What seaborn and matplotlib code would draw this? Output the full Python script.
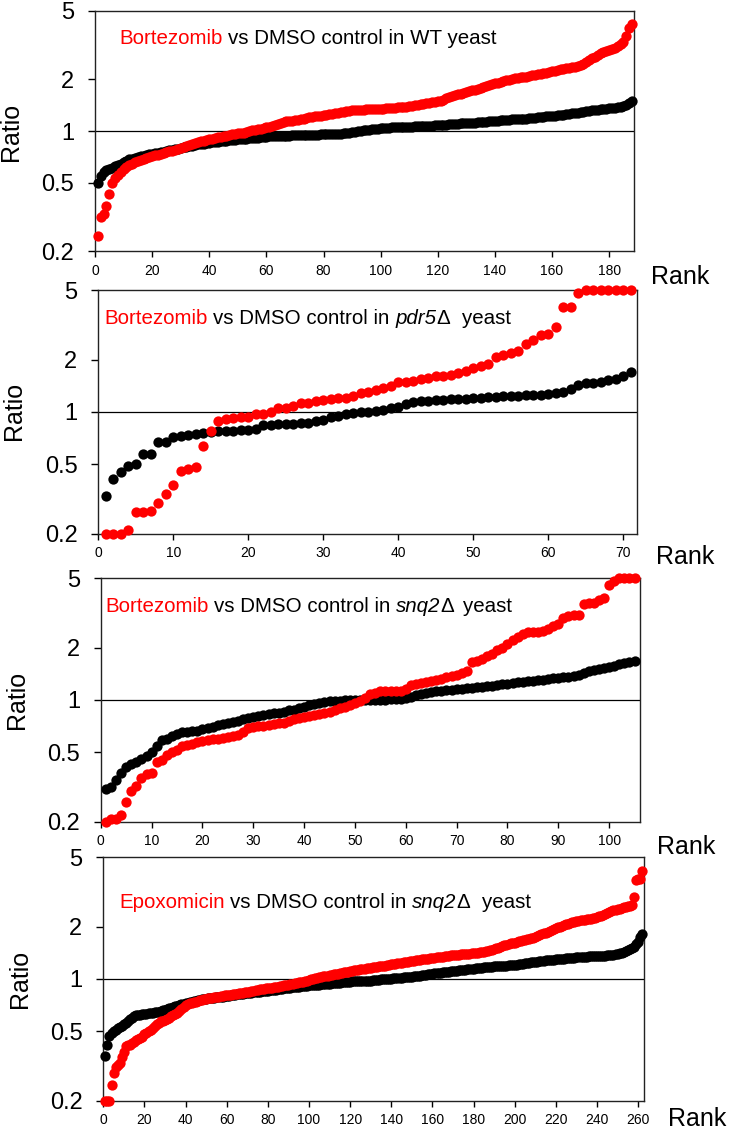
import matplotlib
matplotlib.use("Agg")
import matplotlib.pyplot as plt
import seaborn as sns
import numpy as np
import pandas as pd
from matplotlib.ticker import FixedLocator, FixedFormatter, NullLocator

# ---------------- data (sorted ratios) ----------------
wt_black = [
    0.50, 0.55, 0.575, 0.59, 0.60, 0.61, 0.625, 0.635, 0.645, 0.66,
    0.67, 0.685, 0.69, 0.70, 0.71, 0.715, 0.72, 0.73, 0.735, 0.74,
    0.745, 0.75, 0.755, 0.76, 0.77, 0.775, 0.78, 0.785, 0.79, 0.80,
    0.805, 0.81, 0.815, 0.82, 0.83, 0.835, 0.84, 0.845, 0.85, 0.855,
    0.86, 0.86, 0.865, 0.87, 0.875, 0.88, 0.885, 0.89, 0.89, 0.895,
    0.90, 0.90, 0.90, 0.905, 0.905, 0.91, 0.915, 0.92, 0.925, 0.927,
    0.93, 0.93, 0.932, 0.934, 0.935, 0.937, 0.94, 0.94, 0.942, 0.944,
    0.945, 0.945, 0.946, 0.947, 0.948, 0.95, 0.951, 0.953, 0.955, 0.956,
    0.957, 0.958, 0.959, 0.96, 0.962, 0.965, 0.968, 0.972, 0.978, 0.985,
    0.99, 0.995, 1.0, 1.01, 1.015, 1.02, 1.025, 1.03, 1.033, 1.036,
    1.04, 1.042, 1.045, 1.048, 1.05, 1.052, 1.054, 1.055, 1.057, 1.06,
    1.06, 1.062, 1.064, 1.066, 1.068, 1.07, 1.072, 1.075, 1.078, 1.08,
    1.083, 1.086, 1.09, 1.093, 1.097, 1.10, 1.103, 1.106, 1.11, 1.113,
    1.115, 1.117, 1.12, 1.123, 1.126, 1.13, 1.133, 1.136, 1.14, 1.145,
    1.148, 1.152, 1.155, 1.16, 1.165, 1.168, 1.17, 1.173, 1.176, 1.178,
    1.18, 1.185, 1.19, 1.195, 1.20, 1.205, 1.21, 1.215, 1.22, 1.225,
    1.23, 1.235, 1.24, 1.245, 1.25, 1.257, 1.264, 1.27, 1.28, 1.288,
    1.295, 1.30, 1.31, 1.32, 1.325, 1.33, 1.335, 1.34, 1.35, 1.355,
    1.36, 1.365, 1.37, 1.38, 1.39, 1.42, 1.45, 1.50,
]
wt_red = [
    0.247, 0.315, 0.33, 0.367, 0.43, 0.50, 0.53, 0.555, 0.575, 0.60,
    0.615, 0.635, 0.645, 0.66, 0.67, 0.68, 0.69, 0.70, 0.71, 0.72,
    0.725, 0.73, 0.74, 0.75, 0.76, 0.765, 0.77, 0.78, 0.79, 0.80,
    0.81, 0.82, 0.83, 0.84, 0.855, 0.86, 0.87, 0.88, 0.89, 0.895,
    0.90, 0.91, 0.92, 0.925, 0.935, 0.94, 0.95, 0.955, 0.96, 0.97,
    0.975, 0.98, 0.99, 1.0, 1.01, 1.02, 1.025, 1.03, 1.04, 1.05,
    1.06, 1.07, 1.08, 1.10, 1.12, 1.13, 1.14, 1.145, 1.15, 1.16,
    1.165, 1.17, 1.18, 1.19, 1.20, 1.21, 1.215, 1.22, 1.23, 1.24,
    1.245, 1.25, 1.26, 1.27, 1.28, 1.285, 1.29, 1.30, 1.31, 1.32,
    1.32, 1.325, 1.33, 1.33, 1.335, 1.34, 1.34, 1.34, 1.345, 1.35,
    1.35, 1.355, 1.36, 1.36, 1.365, 1.37, 1.375, 1.38, 1.385, 1.39,
    1.40, 1.41, 1.42, 1.43, 1.44, 1.45, 1.46, 1.47, 1.48, 1.49,
    1.50, 1.52, 1.55, 1.57, 1.59, 1.61, 1.63, 1.65, 1.67, 1.69,
    1.70, 1.72, 1.73, 1.75, 1.78, 1.80, 1.83, 1.85, 1.87, 1.89,
    1.91, 1.93, 1.95, 1.97, 1.98, 2.0, 2.02, 2.03, 2.05, 2.06,
    2.07, 2.09, 2.10, 2.12, 2.13, 2.15, 2.17, 2.18, 2.20, 2.22,
    2.24, 2.26, 2.28, 2.30, 2.32, 2.33, 2.34, 2.36, 2.40, 2.43,
    2.45, 2.5, 2.58, 2.65, 2.7, 2.76, 2.82, 2.88, 2.92, 2.96,
    3.0, 3.05, 3.12, 3.2, 3.3, 3.55, 3.95, 4.17,
]

pdr5_black = [
    0.33, 0.41, 0.45, 0.49, 0.50, 0.57, 0.57, 0.67, 0.67, 0.72,
    0.73, 0.74, 0.75, 0.76, 0.77, 0.78, 0.78, 0.78, 0.79, 0.79,
    0.80, 0.84, 0.84, 0.85, 0.85, 0.85, 0.86, 0.87, 0.89, 0.90,
    0.94, 0.95, 0.97, 0.99, 1.0, 1.0, 1.01, 1.03, 1.05, 1.07,
    1.11, 1.14, 1.15, 1.16, 1.17, 1.17, 1.18, 1.18, 1.18, 1.20,
    1.21, 1.22, 1.22, 1.24, 1.24, 1.24, 1.25, 1.25, 1.26, 1.27,
    1.28, 1.31, 1.36, 1.43, 1.46, 1.46, 1.49, 1.53, 1.55, 1.60, 1.69,
]
pdr5_red = [
    0.20, 0.20, 0.20, 0.21, 0.265, 0.265, 0.27, 0.30, 0.34, 0.38,
    0.46, 0.47, 0.48, 0.64, 0.78, 0.89, 0.91, 0.92, 0.93, 0.94,
    0.97, 0.98, 1.0, 1.05, 1.06, 1.08, 1.12, 1.13, 1.15, 1.17,
    1.18, 1.20, 1.21, 1.23, 1.28, 1.31, 1.33, 1.37, 1.41, 1.48,
    1.49, 1.51, 1.54, 1.56, 1.60, 1.62, 1.63, 1.67, 1.72, 1.80,
    1.84, 1.88, 2.08, 2.13, 2.17, 2.25, 2.45, 2.60, 2.77, 2.80,
    3.10, 4.0, 4.0, 4.8, 5.0, 5.0, 5.0, 5.0, 5.0, 5.0, 5.0,
]

snq2_black = [
    0.306, 0.317, 0.347, 0.38, 0.41, 0.43, 0.44, 0.455, 0.475, 0.505,
    0.54, 0.59, 0.60, 0.62, 0.64, 0.65, 0.655, 0.66, 0.665, 0.68,
    0.69, 0.70, 0.715, 0.73, 0.735, 0.75, 0.76, 0.775, 0.79, 0.80,
    0.81, 0.82, 0.825, 0.84, 0.845, 0.855, 0.87, 0.88, 0.90, 0.915,
    0.93, 0.95, 0.955, 0.97, 0.98, 0.985, 0.99, 1.0, 1.0, 1.0,
    1.0, 1.0, 1.0, 1.0, 1.0, 1.005, 1.01, 1.01, 1.015, 1.02,
    1.04, 1.07, 1.08, 1.10, 1.11, 1.12, 1.13, 1.14, 1.145, 1.15,
    1.16, 1.17, 1.175, 1.18, 1.19, 1.20, 1.21, 1.22, 1.23, 1.24,
    1.25, 1.26, 1.27, 1.28, 1.29, 1.30, 1.31, 1.32, 1.33, 1.34,
    1.35, 1.36, 1.37, 1.39, 1.42, 1.47, 1.49, 1.51, 1.53, 1.55,
    1.57, 1.60, 1.63, 1.66, 1.68,
]
snq2_red = [
    0.20, 0.208, 0.208, 0.218, 0.26, 0.30, 0.32, 0.355, 0.375, 0.38,
    0.44, 0.45, 0.48, 0.50, 0.515, 0.54, 0.55, 0.56, 0.57, 0.58,
    0.59, 0.595, 0.60, 0.607, 0.615, 0.62, 0.63, 0.65, 0.69, 0.70,
    0.705, 0.71, 0.715, 0.725, 0.735, 0.74, 0.76, 0.775, 0.785, 0.80,
    0.81, 0.82, 0.83, 0.84, 0.855, 0.88, 0.90, 0.915, 0.935, 0.955,
    0.98, 1.02, 1.08, 1.10, 1.12, 1.12, 1.12, 1.12, 1.13, 1.15,
    1.22, 1.24, 1.25, 1.27, 1.28, 1.30, 1.32, 1.35, 1.38, 1.40,
    1.43, 1.46, 1.66, 1.68, 1.71, 1.78, 1.84, 1.94, 2.0, 2.1,
    2.2, 2.31, 2.38, 2.45, 2.47, 2.47, 2.5, 2.55, 2.65, 2.74,
    2.95, 3.05, 3.08, 3.1, 3.55, 3.6, 3.6, 3.75, 3.84, 4.58,
    4.8, 5.0, 5.0, 5.0, 5.0,
]

epox_black = [
    0.36, 0.42, 0.47, 0.49, 0.50, 0.51, 0.52, 0.53, 0.54, 0.55,
    0.56, 0.57, 0.59, 0.60, 0.615, 0.62, 0.622, 0.625, 0.627, 0.63,
    0.633, 0.635, 0.638, 0.64, 0.643, 0.647, 0.65, 0.655, 0.66, 0.665,
    0.67, 0.677, 0.685, 0.69, 0.695, 0.70, 0.708, 0.715, 0.72, 0.725,
    0.73, 0.735, 0.74, 0.745, 0.75, 0.755, 0.76, 0.765, 0.77, 0.772,
    0.775, 0.777, 0.78, 0.782, 0.785, 0.787, 0.79, 0.793, 0.796, 0.80,
    0.803, 0.806, 0.809, 0.812, 0.815, 0.818, 0.821, 0.824, 0.827, 0.83,
    0.833, 0.836, 0.838, 0.84, 0.843, 0.846, 0.849, 0.852, 0.855, 0.858,
    0.861, 0.864, 0.867, 0.87, 0.873, 0.876, 0.879, 0.882, 0.886, 0.89,
    0.893, 0.896, 0.899, 0.902, 0.905, 0.908, 0.911, 0.915, 0.917, 0.919,
    0.921, 0.923, 0.925, 0.927, 0.929, 0.93, 0.933, 0.935, 0.938, 0.94,
    0.943, 0.945, 0.948, 0.95, 0.952, 0.955, 0.957, 0.96, 0.963, 0.966,
    0.968, 0.97, 0.972, 0.974, 0.975, 0.976, 0.977, 0.978, 0.979, 0.98,
    0.983, 0.986, 0.989, 0.992, 0.995, 0.997, 0.999, 1.0, 1.003, 1.006,
    1.009, 1.012, 1.015, 1.018, 1.02, 1.022, 1.024, 1.026, 1.028, 1.03,
    1.034, 1.038, 1.042, 1.046, 1.05, 1.054, 1.058, 1.062, 1.066, 1.072,
    1.076, 1.08, 1.084, 1.088, 1.092, 1.096, 1.10, 1.103, 1.106, 1.11,
    1.114, 1.118, 1.122, 1.126, 1.13, 1.133, 1.136, 1.14, 1.144, 1.148,
    1.152, 1.156, 1.16, 1.163, 1.166, 1.17, 1.172, 1.175, 1.177, 1.18,
    1.182, 1.184, 1.186, 1.188, 1.19, 1.193, 1.196, 1.20, 1.203, 1.206,
    1.21, 1.215, 1.22, 1.225, 1.23, 1.235, 1.24, 1.245, 1.25, 1.255,
    1.26, 1.265, 1.27, 1.275, 1.28, 1.283, 1.287, 1.29, 1.293, 1.296,
    1.30, 1.303, 1.306, 1.31, 1.313, 1.316, 1.32, 1.323, 1.326, 1.33,
    1.333, 1.336, 1.339, 1.342, 1.345, 1.347, 1.349, 1.351, 1.353, 1.355,
    1.357, 1.359, 1.36, 1.362, 1.365, 1.37, 1.375, 1.38, 1.39, 1.40,
    1.41, 1.42, 1.43, 1.44, 1.46, 1.48, 1.50, 1.53, 1.58, 1.64,
    1.75, 1.81,
]
epox_red = [
    0.20, 0.20, 0.20, 0.246, 0.287, 0.313, 0.32, 0.33, 0.358, 0.38,
    0.41, 0.415, 0.42, 0.427, 0.435, 0.445, 0.45, 0.46, 0.466, 0.48,
    0.49, 0.50, 0.51, 0.52, 0.54, 0.55, 0.56, 0.57, 0.577, 0.584,
    0.59, 0.60, 0.61, 0.618, 0.626, 0.64, 0.655, 0.672, 0.69, 0.705,
    0.718, 0.725, 0.73, 0.737, 0.742, 0.748, 0.754, 0.76, 0.767, 0.771,
    0.775, 0.778, 0.781, 0.785, 0.788, 0.792, 0.796, 0.80, 0.804, 0.808,
    0.81, 0.814, 0.817, 0.82, 0.823, 0.827, 0.83, 0.834, 0.838, 0.842,
    0.847, 0.852, 0.857, 0.862, 0.867, 0.872, 0.876, 0.88, 0.883, 0.887,
    0.89, 0.893, 0.897, 0.90, 0.903, 0.908, 0.913, 0.918, 0.923, 0.928,
    0.933, 0.938, 0.944, 0.95, 0.955, 0.96, 0.967, 0.974, 0.98, 0.988,
    0.996, 1.003, 1.01, 1.016, 1.022, 1.028, 1.034, 1.04, 1.045, 1.05,
    1.056, 1.062, 1.067, 1.072, 1.078, 1.084, 1.09, 1.096, 1.102, 1.108,
    1.114, 1.12, 1.125, 1.13, 1.135, 1.14, 1.145, 1.15, 1.155, 1.16,
    1.165, 1.17, 1.175, 1.18, 1.185, 1.19, 1.195, 1.20, 1.206, 1.212,
    1.218, 1.224, 1.23, 1.236, 1.242, 1.248, 1.254, 1.26, 1.265, 1.27,
    1.275, 1.28, 1.285, 1.29, 1.295, 1.30, 1.305, 1.31, 1.315, 1.32,
    1.325, 1.33, 1.335, 1.34, 1.345, 1.35, 1.355, 1.36, 1.365, 1.37,
    1.374, 1.378, 1.382, 1.386, 1.39, 1.394, 1.398, 1.40, 1.405, 1.41,
    1.415, 1.42, 1.425, 1.43, 1.435, 1.44, 1.45, 1.46, 1.47, 1.48,
    1.50, 1.515, 1.53, 1.545, 1.56, 1.575, 1.59, 1.60, 1.61, 1.62,
    1.635, 1.65, 1.66, 1.67, 1.68, 1.69, 1.70, 1.715, 1.73, 1.75,
    1.77, 1.79, 1.81, 1.83, 1.85, 1.87, 1.89, 1.91, 1.94, 1.96,
    1.98, 2.0, 2.02, 2.04, 2.06, 2.08, 2.10, 2.12, 2.13, 2.15,
    2.16, 2.17, 2.18, 2.19, 2.20, 2.21, 2.22, 2.23, 2.25, 2.27,
    2.29, 2.31, 2.33, 2.36, 2.39, 2.42, 2.45, 2.48, 2.50, 2.52,
    2.54, 2.56, 2.58, 2.60, 2.62, 2.64, 2.66, 2.95, 3.70, 3.75,
    3.75, 4.20,
]

y_ticks = [0.2, 0.5, 1, 2, 5]
y_tick_labels = ["0.2", "0.5", "1", "2", "5"]
x_label = "Rank"
y_label = "Ratio"

# ---------------- style ----------------
sns.set_style("ticks")
plt.rcParams["font.family"] = ["Liberation Sans", "DejaVu Sans"]

W, H = 736, 1133
fig = plt.figure(figsize=(W / 100, H / 100), dpi=100)
fig.patch.set_facecolor("white")

RED = "#FF0000"
SP = 0.278 * 14.8 * 100 / 72  # width of a space in px
DOT = 55

panels = [
    dict(box=(95, 10.6, 634, 251.4), xmax=188.7, xstep=20, xlast=180,
         black=wt_black, red=wt_red,
         title_xy=(119.3, 43.5),
         parts=[("Bortezomib", RED, "normal", 0),
                ("vs DMSO control in WT yeast", "black", "normal", SP)],
         rank_xy=(651, 284), ratio_xy=(11, 131.7)),
    dict(box=(98.3, 290.4, 636.8, 533.6), xmax=71.8, xstep=10, xlast=70,
         black=pdr5_black, red=pdr5_red,
         title_xy=(104.3, 323.5),
         parts=[("Bortezomib", RED, "normal", 0),
                ("vs DMSO control in", "black", "normal", SP),
                ("pdr5", "black", "italic", SP),
                ("\u0394", "black", "normal", 0),
                ("yeast", "black", "normal", 2 * SP)],
         rank_xy=(656, 564), ratio_xy=(14, 411)),
    dict(box=(100.8, 578.4, 639.6, 821.5), xmax=106, xstep=10, xlast=100,
         black=snq2_black, red=snq2_red,
         title_xy=(105, 612.5),
         parts=[("Bortezomib", RED, "normal", 0),
                ("vs DMSO control in", "black", "normal", SP),
                ("snq2", "black", "italic", SP),
                ("\u0394", "black", "normal", 0),
                ("yeast", "black", "normal", 1.5 * SP)],
         rank_xy=(657, 854), ratio_xy=(16.7, 700)),
    dict(box=(103.3, 857.4, 643.9, 1100.6), xmax=262.8, xstep=20, xlast=260,
         black=epox_black, red=epox_red,
         title_xy=(119, 908.5),
         parts=[("Epoxomicin", RED, "normal", 0),
                ("vs DMSO control in", "black", "normal", SP),
                ("snq2", "black", "italic", SP),
                ("\u0394", "black", "normal", 0),
                ("yeast", "black", "normal", 2 * SP)],
         rank_xy=(668, 1126), ratio_xy=(20, 979)),
]

renderer = fig.canvas.get_renderer()

for p in panels:
    l, t, r, b = p["box"]
    ax = fig.add_axes([l / W, 1 - b / H, (r - l) / W, (b - t) / H])
    ax.set_yscale("log")

    dfb = pd.DataFrame({"rank": np.arange(1, len(p["black"]) + 1), "ratio": p["black"]})
    dfr = pd.DataFrame({"rank": np.arange(1, len(p["red"]) + 1), "ratio": p["red"]})
    sns.scatterplot(data=dfb, x="rank", y="ratio", ax=ax, color="black", s=DOT,
                    linewidth=0, clip_on=False, zorder=3, legend=False)
    sns.scatterplot(data=dfr, x="rank", y="ratio", ax=ax, color=RED, s=DOT,
                    linewidth=0, clip_on=False, zorder=4, legend=False)

    ax.axhline(1, color="black", lw=0.9, zorder=2)
    ax.set_xlim(0, p["xmax"])
    ax.set_ylim(0.2, 5)
    ax.yaxis.set_major_locator(FixedLocator(y_ticks))
    ax.yaxis.set_major_formatter(FixedFormatter(y_tick_labels))
    ax.yaxis.set_minor_locator(NullLocator())
    ax.set_xticks(np.arange(0, p["xlast"] + 1, p["xstep"]))
    ax.set_xlabel("")
    ax.set_ylabel("")
    ax.tick_params(axis="y", direction="out", length=5, width=1, labelsize=17,
                   pad=10, colors="black")
    ax.tick_params(axis="x", direction="out", length=4, width=1, labelsize=10,
                   pad=5, colors="black")
    for s in ax.spines.values():
        s.set_color("#222222")
        s.set_linewidth(1.0)
    ax.grid(False)

    # axis titles
    fig.text(p["rank_xy"][0] / W, 1 - p["rank_xy"][1] / H, x_label, fontsize=18,
             ha="left", va="baseline", color="black")
    fig.text(p["ratio_xy"][0] / W, 1 - p["ratio_xy"][1] / H, y_label, fontsize=18,
             rotation=90, ha="center", va="center", color="black")

    # multi-coloured title
    x_px, base = p["title_xy"]
    for txt, col, style, gap in p["parts"]:
        x_px += gap
        tt = fig.text(x_px / W, 1 - base / H, txt, color=col, fontstyle=style,
                      fontsize=14.8, ha="left", va="baseline")
        x_px = tt.get_window_extent(renderer).x1

fig.savefig("out.png", dpi=100, facecolor="white")
